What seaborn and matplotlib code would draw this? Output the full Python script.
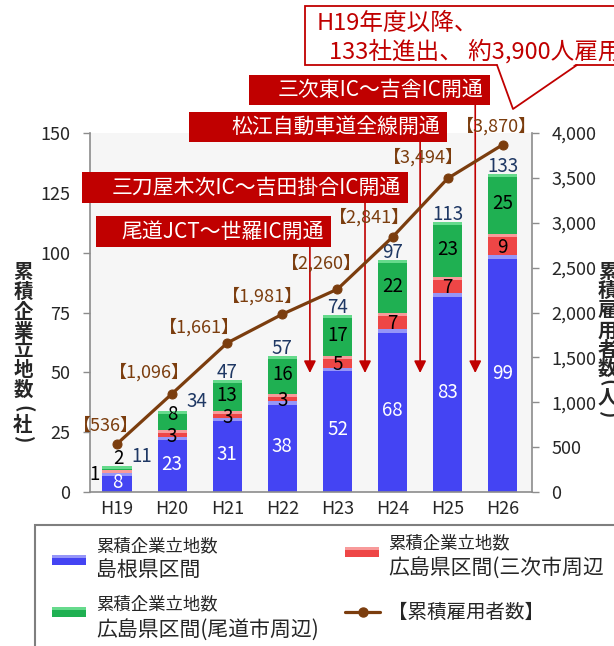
import numpy as np
import pandas as pd
import matplotlib
matplotlib.use("Agg")
import matplotlib.pyplot as plt
import seaborn as sns
from matplotlib.patches import Rectangle, Polygon
from matplotlib.lines import Line2D
from matplotlib.ticker import FuncFormatter

# ---------------- data ----------------
years = ["H19", "H20", "H21", "H22", "H23", "H24", "H25", "H26"]
shimane = [8, 23, 31, 38, 52, 68, 83, 99]          # 島根県区間
miyoshi = [1, 3, 3, 3, 5, 7, 7, 9]                 # 広島県区間(三次市周辺)
onomichi = [2, 8, 13, 16, 17, 22, 23, 25]          # 広島県区間(尾道市周辺)
employees = [536, 1096, 1661, 1981, 2260, 2841, 3494, 3870]  # 累積雇用者数
left_ticks = [0, 25, 50, 75, 100, 125, 150]
right_ticks = [0, 500, 1000, 1500, 2000, 2500, 3000, 3500, 4000]
events = ["尾道JCT～世羅IC開通", "三刀屋木次IC～吉田掛合IC開通",
          "松江自動車道全線開通", "三次東IC～吉舎IC開通"]
event_after = ["H22", "H23", "H24", "H25"]
callout_lines = ["H19年度以降、", "133社進出、 約3,900人雇用"]
left_label = "累積企業立地数(社)"
right_label = "累積雇用者数(人)"
legend_small = "累積企業立地数"
legend_big = ["島根県区間", "広島県区間(三次市周辺", "広島県区間(尾道市周辺)"]
legend_line = "【累積雇用者数】"

df = pd.DataFrame({"year": years, "shimane": shimane,
                   "miyoshi": miyoshi, "onomichi": onomichi,
                   "employees": employees})
df["lvl2"] = df["shimane"] + df["miyoshi"]
df["total"] = df["lvl2"] + df["onomichi"]

# ---------------- style ----------------
sns.set_theme(style="white")
plt.rcParams["font.family"] = ["Noto Sans CJK JP", "DejaVu Sans"]

BLUE, BLUE_L = "#4444F3", "#9696F8"
RED, RED_L = "#EE4646", "#F89A9A"
GREEN, GREEN_L = "#1FB052", "#66DA8C"
BROWN = "#7B3D0E"
NAVY = "#1F3864"
DRED = "#C00000"
GRAY = "#8C8C8C"

W, H = 614, 646
fig = plt.figure(figsize=(W / 100, H / 100), dpi=100)


def fx(px):
    return px / W


def fy(py):
    return 1 - py / H


ax = fig.add_axes([fx(90), fy(492), fx(532) - fx(90), fy(133) - fy(492)])
ax.set_facecolor("#F6F6F6")

BW = 0.53
for col, c in (("total", GREEN), ("lvl2", RED), ("shimane", BLUE)):
    sns.barplot(data=df, x="year", y=col, color=c, saturation=1, width=BW,
                errorbar=None, linewidth=0, ax=ax)

ax.set_ylim(0, 150)
band = 3.5 / 2.393
for p, c in zip(ax.patches, [GREEN_L] * 8 + [RED_L] * 8 + [BLUE_L] * 8):
    x0, w = p.get_x(), p.get_width()
    top = p.get_y() + p.get_height()
    ax.add_patch(Rectangle((x0, top - band), w, band, color=c, lw=0, zorder=3))

ax.set_yticks(left_ticks)
ax.set_xlabel("")
ax.set_ylabel("")
ax.tick_params(axis="y", direction="out", length=5, width=1, color=GRAY,
               labelsize=13, pad=9, left=True)
ax.tick_params(axis="x", length=0, labelsize=13, pad=6)
for s in ("top", "right"):
    ax.spines[s].set_visible(False)
for s in ("left", "bottom"):
    ax.spines[s].set_color(GRAY)
    ax.spines[s].set_linewidth(1.2)

# segment labels
for i in range(len(years)):
    b, r, g = shimane[i], miyoshi[i], onomichi[i]
    tot = b + r + g
    ax.text(i, b / 2, str(b), color="white", ha="center", va="center",
            fontsize=13.5, zorder=5)
    if r < 3:
        ax.annotate(str(r), xy=(i - BW / 2, b + r / 2), xytext=(-3, -3),
                    textcoords="offset pixels", ha="right", va="center",
                    fontsize=13.5, color="black", zorder=5)
    else:
        ax.annotate(str(r), xy=(i, b + r / 2), xytext=(0, -3),
                    textcoords="offset pixels", ha="center", va="center",
                    fontsize=13.5, color="black", zorder=5)
    if g < 4:
        ax.annotate(str(g), xy=(i, tot), xytext=(1, 7),
                    textcoords="offset pixels", ha="center", va="center",
                    fontsize=13.5, color="black", zorder=5)
    elif g < 10:
        ax.annotate(str(g), xy=(i, b + r + g / 2), xytext=(0, 6),
                    textcoords="offset pixels", ha="center", va="center",
                    fontsize=13.5, color="black", zorder=5)
    else:
        ax.text(i, b + r + g / 2, str(g), color="black", ha="center",
                va="center", fontsize=13.5, zorder=5)
    if i < 2:
        ax.annotate(str(tot), xy=(i + BW / 2, tot), xytext=(0, 9),
                    textcoords="offset pixels", ha="left", va="center",
                    fontsize=13.5, color=NAVY, zorder=5)
    else:
        ax.annotate(str(tot), xy=(i, tot), xytext=(0, 7),
                    textcoords="offset pixels", ha="center", va="center",
                    fontsize=13.5, color=NAVY, zorder=5)

# employees line on twin axis
ax2 = ax.twinx()
sns.lineplot(data=df, x="year", y="employees", color=BROWN, lw=2.3,
             marker="o", markersize=6.5, markeredgecolor=BROWN, sort=False,
             ax=ax2)
ax2.set_ylim(0, 4000)
ax2.set_yticks(right_ticks)
ax2.yaxis.set_major_formatter(FuncFormatter(lambda v, p: f"{int(v):,}"))
ax2.tick_params(axis="y", direction="out", length=5, width=1, color=GRAY,
                labelsize=13, pad=9, right=True)
ax2.set_ylabel("")
ax2.set_xlabel("")
for s in ("top", "left", "bottom"):
    ax2.spines[s].set_visible(False)
ax2.spines["right"].set_color(GRAY)
ax2.spines["right"].set_linewidth(1.2)

emp_offsets = [(-11, 18), (-23, 21), (-28, 16), (-20, 18), (-16, 26),
               (-23, 20), (-24, 21), (-6, 18)]
for i, v in enumerate(employees):
    ax2.annotate(f"【{v:,}】", xy=(i, v), xytext=emp_offsets[i],
                 textcoords="offset pixels", ha="center", va="center",
                 fontsize=13, color=BROWN)

ax.set_xlim(-0.49, 7.53)

# ---------------- event banners & arrows ----------------
banner_boxes = [(96, 216, 331, 247), (82, 172, 408, 203),
                (189, 112, 447, 142), (249, 75, 490, 105)]
ppu = (492 - 133) / 150.0
for text, after, (x0, y0, x1, y1) in zip(events, event_after, banner_boxes):
    fig.add_artist(Rectangle((fx(x0), fy(y1)), fx(x1) - fx(x0), fy(y0) - fy(y1),
                             transform=fig.transFigure, color=DRED, lw=0,
                             zorder=6))
    fig.text(fx(x1 - 7), fy((y0 + y1) / 2), text, color="white", fontsize=15,
             ha="right", va="center", zorder=7)
    xi = years.index(after) + 0.5
    ystart = (492 - y1) / ppu
    ax.annotate("", xy=(xi, (492 - 373) / ppu), xytext=(xi, ystart),
                xycoords="data", textcoords="data", annotation_clip=False,
                arrowprops=dict(arrowstyle="-|>,head_length=0.6,head_width=0.3",
                                color=DRED, lw=1.2, mutation_scale=12,
                                shrinkA=0, shrinkB=0), zorder=4)

# ---------------- callout ----------------
fig.add_artist(Rectangle((fx(305), fy(65)), fx(700) - fx(305), fy(6) - fy(65),
                         transform=fig.transFigure, facecolor="white",
                         edgecolor=DRED, lw=1.3, zorder=8))
fig.add_artist(Polygon([(fx(497), fy(63)), (fx(513), fy(109)), (fx(577), fy(63))],
                       closed=True, transform=fig.transFigure,
                       facecolor="white", edgecolor="none", zorder=9))
fig.add_artist(Line2D([fx(497), fx(513), fx(577)], [fy(65), fy(109), fy(65)],
                      transform=fig.transFigure, color=DRED, lw=1.3, zorder=9))
fig.text(fx(317), fy(24), callout_lines[0], color=DRED, fontsize=17,
         ha="left", va="center", zorder=10)
fig.text(fx(329), fy(51), callout_lines[1], color=DRED, fontsize=17,
         ha="left", va="center", zorder=10)


# ---------------- axis titles (vertical stacked) ----------------
def stacked(label, xpx, ys, ha):
    for ch, yy in zip(label, ys):
        rot = -90 if ch in "()" else 0
        fig.text(fx(xpx), fy(yy), ch, fontsize=14, fontweight="bold",
                 ha=ha, va="center", rotation=rot)


stacked(left_label, 23, [272, 292, 312, 332, 351, 371, 390, 409, 425, 440],
        "center")
stacked(right_label, 598, [272, 291, 311, 331, 350, 369, 383, 398, 415],
        "left")

# ---------------- legend ----------------
fig.add_artist(Rectangle((fx(35), fy(700)), fx(700) - fx(35), fy(525) - fy(700),
                         transform=fig.transFigure, facecolor="white",
                         edgecolor="#7F7F7F", lw=1.5, zorder=2))
leg_patches = [(52, 555, BLUE, BLUE_L), (345, 547, RED, RED_L),
               (52, 607, GREEN, GREEN_L)]
for (px, py, c, cl) in leg_patches:
    fig.add_artist(Rectangle((fx(px), fy(py + 10)), fx(px + 34) - fx(px),
                             fy(py) - fy(py + 10), transform=fig.transFigure,
                             color=c, lw=0, zorder=3))
    fig.add_artist(Rectangle((fx(px), fy(py + 3)), fx(px + 34) - fx(px),
                             fy(py) - fy(py + 3), transform=fig.transFigure,
                             color=cl, lw=0, zorder=4))
leg_text_pos = [(96, 546, 570), (388, 543, 568), (96, 604, 630)]
for (tx, ys, yb), big in zip(leg_text_pos, legend_big):
    fig.text(fx(tx), fy(ys), legend_small, fontsize=12.5, ha="left",
             va="center", zorder=5)
    fig.text(fx(tx), fy(yb), big, fontsize=15, ha="left", va="center",
             zorder=5)
fig.add_artist(Line2D([fx(345), fx(380)], [fy(612), fy(612)],
                      transform=fig.transFigure, color=BROWN, lw=2.3,
                      zorder=5))
fig.add_artist(Line2D([fx(362.5)], [fy(612)], transform=fig.transFigure,
                      color=BROWN, marker="o", markersize=6.5, zorder=6))
fig.text(fx(388), fy(612), legend_line, fontsize=14, ha="left", va="center",
         zorder=5)

fig.savefig("out.png", dpi=100)
